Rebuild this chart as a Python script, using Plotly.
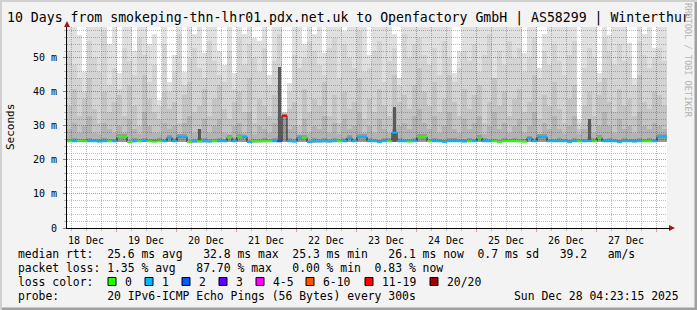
import plotly.graph_objects as go
import pandas as pd

# ---------------- data ----------------
title_text = "10 Days from smokeping-thn-lhr01.pdx.net.uk to Openfactory GmbH | AS58299 | Winterthur"
t_start = pd.Timestamp("2025-12-18 04:23:15")
t_end = pd.Timestamp("2025-12-28 04:23:15")
bin_hours = 2
n_bins = 120

smoke_base = 25.3
# lightest smoke (max ping) per 2-hour bin, ms
smoke_max = [60, 60, 56.8, 46, 60, 60, 60, 60, 54, 60,
             45.6, 60, 60, 52, 60, 60, 54, 57, 37.6, 60,
             43, 51, 60, 46, 60, 57, 60, 51.5, 60, 60,
             52, 48, 60, 45.6, 60, 57, 60, 56, 55, 60,
             45, 60, 60, 34, 42.6, 60, 60, 54, 60, 57,
             60, 51.5, 60, 60, 60, 58, 60, 60, 60, 60,
             51, 60, 60, 60, 60, 57, 44, 60, 60, 60,
             60, 60, 60, 60, 60, 60, 60, 45.6, 52, 60,
             60, 60, 60, 60, 60, 60, 60, 60, 60, 60,
             60, 51.5, 60, 60, 47, 57, 60, 60, 60, 60,
             60, 60, 32, 60, 60, 60, 45.6, 60, 56.8, 60,
             60, 60, 54.4, 44, 60, 57, 60, 53, 60, 60]
smoke_hi = [52, 48, 44, 40, 55, 50, 46, 58, 42, 47,
            41, 53, 49, 45, 56, 51, 43, 48, 36, 54,
            40, 46, 57, 42, 50, 53, 47, 44, 55, 49,
            45, 43, 52, 41, 56, 48, 54, 50, 46, 53,
            42, 49, 57, 34, 40, 51, 47, 50, 55, 52,
            48, 45, 53, 56, 44, 54, 50, 47, 58, 46,
            47, 52, 55, 43, 49, 53, 42, 57, 50, 54,
            56, 51, 48, 53, 45, 55, 50, 43, 47, 52,
            49, 54, 46, 51, 57, 44, 52, 48, 55, 50,
            53, 46, 50, 56, 44, 52, 48, 54, 49, 45,
            51, 55, 31, 47, 53, 50, 43, 56, 52, 48,
            54, 49, 50, 42, 55, 51, 47, 50, 53, 49]
smoke_mid = [36, 41, 33, 38, 44, 35, 31, 40, 34, 37,
             39, 33, 42, 36, 30, 45, 38, 34, 32, 40,
             35, 37, 31, 39, 43, 34, 36, 41, 33, 38,
             42, 35, 32, 37, 40, 34, 44, 31, 38, 36,
             33, 39, 42, 33.8, 35, 37, 30, 41, 34, 38,
             36, 43, 33, 39, 31, 40, 35, 37, 44, 32,
             38, 34, 41, 36, 33, 45, 37, 39, 35, 42,
             47, 40, 36, 43, 34, 38, 45, 37, 33, 41,
             35, 39, 42, 31, 37, 44, 36, 40, 33, 38,
             41, 34, 37, 45, 32, 39, 36, 43, 35, 31,
             38, 42, 29, 36, 40, 33, 39, 44, 37, 34,
             41, 36, 38, 33, 45, 37, 35, 40, 39, 36]
smoke_lo = [29, 31, 28, 30, 33, 28, 27.5, 31, 29, 28,
            30, 28, 32, 29, 27.5, 34, 30, 28, 28, 31,
            29, 30, 27.5, 31, 33, 28, 29, 32, 28, 30,
            32, 28, 27.5, 30, 31, 28, 34, 27.5, 30, 29,
            28, 31, 33, 33.6, 29, 30, 27.5, 32, 28, 30,
            29, 33, 28, 31, 27.5, 32, 29, 30, 34, 28,
            30, 28, 32, 29, 28, 35, 30, 31, 29, 33,
            35, 31, 29, 33, 28, 30, 34, 29, 28, 32,
            29, 31, 33, 27.5, 30, 34, 29, 31, 28, 30,
            32, 28, 30, 34, 27.5, 31, 29, 33, 29, 27.5,
            30, 33, 27.5, 29, 31, 28, 30, 34, 30, 28,
            32, 29, 30, 28, 34, 30, 29, 31, 30, 29]
smoke_near = [26.2, 26.4, 26.1, 26.3, 26.5, 26.2, 26.1, 26.6, 26.3, 26.2,
              27.6, 27.5, 26.0, 26.4, 26.2, 26.5, 26.3, 26.1, 26.4, 26.2,
              27.3, 26.5, 27.6, 27.5, 26.0, 26.3, 26.6, 26.4, 26.2, 26.3,
              26.5, 26.2, 27.2, 26.4, 27.6, 27.4, 26.0, 26.3, 26.2, 26.4,
              26.3, 26.5, 27.0, 33.4, 26.6, 26.3, 27.3, 27.2, 26.0, 26.4,
              26.2, 26.6, 26.3, 26.4, 26.2, 26.5, 27.2, 26.3, 27.6, 27.5,
              26.4, 26.3, 26.0, 26.5, 26.4, 29.0, 26.6, 26.3, 26.2, 26.4,
              27.6, 27.5, 26.3, 26.5, 26.2, 26.0, 26.4, 26.6, 26.3, 26.2,
              26.4, 26.3, 27.2, 26.5, 26.2, 26.3, 26.0, 26.4, 26.2, 26.5,
              26.3, 26.2, 27.1, 26.4, 27.6, 27.5, 26.3, 26.2, 26.4, 26.3,
              26.0, 26.5, 26.3, 26.2, 26.8, 26.4, 27.3, 26.2, 26.5, 26.3,
              26.0, 26.4, 26.3, 26.2, 26.5, 26.3, 26.4, 26.2, 27.7, 27.6]
# dark concentrated smoke spikes (only a few bins)
spike_rtt = [None] * 120
spike_rtt[26] = 29.0
spike_rtt[42] = 47.3
spike_rtt[65] = 35.6
spike_rtt[104] = 32.0

median_rtt = [25.5, 25.5, 25.6, 25.5, 25.5, 25.5, 25.4, 25.5, 25.5, 25.5,
              26.8, 26.8, 25.3, 25.5, 25.5, 25.6, 25.5, 25.4, 25.5, 25.5,
              26.6, 25.5, 26.8, 26.8, 25.3, 25.5, 25.5, 25.5, 25.4, 25.5,
              25.5, 25.5, 26.6, 25.5, 26.8, 26.8, 25.3, 25.5, 25.5, 25.5,
              25.5, 25.5, 25.5, 33.0, 25.5, 25.4, 26.6, 26.6, 25.3, 25.5,
              25.5, 25.5, 25.4, 25.5, 25.5, 25.5, 26.5, 25.5, 26.8, 26.8,
              25.5, 25.5, 25.3, 25.5, 25.5, 28.0, 25.5, 25.5, 25.4, 25.5,
              26.8, 26.8, 25.5, 25.5, 25.5, 25.3, 25.5, 25.5, 25.5, 25.4,
              25.5, 25.5, 26.5, 25.5, 25.5, 25.5, 25.3, 25.5, 25.5, 25.5,
              25.5, 25.4, 26.4, 25.5, 26.8, 26.8, 25.5, 25.5, 25.5, 25.5,
              25.3, 25.5, 25.5, 25.5, 25.6, 25.5, 26.6, 25.5, 25.5, 25.5,
              25.3, 25.5, 25.5, 25.4, 25.5, 25.5, 25.5, 25.5, 26.9, 26.9]
loss = [0, 1, 0, 0, 1, 1, 1, 1, 0, 1,
        0, 0, 0, 1, 0, 1, 0, 0, 0, 1,
        1, 1, 1, 1, 0, 1, 0, 1, 1, 0,
        1, 1, 0, 1, 0, 1, 1, 0, 0, 0,
        0, 1, 2, 11, 1, 1, 1, 0, 1, 1,
        1, 1, 1, 1, 0, 1, 1, 1, 1, 1,
        1, 1, 1, 1, 0, 1, 1, 1, 0, 1,
        0, 0, 0, 1, 1, 1, 1, 1, 1, 1,
        0, 1, 0, 1, 1, 0, 0, 0, 0, 0,
        0, 0, 1, 1, 1, 1, 1, 1, 1, 1,
        1, 1, 0, 1, 1, 0, 0, 1, 1, 1,
        1, 1, 1, 1, 1, 0, 0, 1, 1, 1]

loss_labels = ["0", "1", "2", "3", "4-5", "6-10", "11-19", "20/20"]
loss_colors = ["#26ff00", "#00b8ff", "#0059ff", "#5e00ff", "#ff00fe", "#ff5500", "#ff0000", "#a10000"]
loss_upper = [0, 1, 2, 3, 5, 10, 19, 20]

y_tickvals = [0, 10, 20, 30, 40, 50]
y_ticktext = ["0", "10 m", "20 m", "30 m", "40 m", "50 m"]

stat_rtt = "median rtt:  25.6 ms avg   32.8 ms max  25.3 ms min   26.1 ms now  0.7 ms sd   39.2   am/s"
stat_loss = "packet loss: 1.35 % avg   87.70 % max   0.00 % min  0.83 % now"
probe_text = "probe:       20 IPv6-ICMP Echo Pings (56 Bytes) every 300s"
date_text = "Sun Dec 28 04:23:15 2025"

# ---------------- helpers ----------------
MONO = "DejaVu Sans Mono"
W, H = 697, 310
PL, PR, PT, PB = 67, 667, 27, 228


def ax(px):
    return (px - PL) / (PR - PL)


def ay(py):
    return (PB - py) / (PB - PT)


def nb(s):
    return s.replace(" ", "\u00a0")


step = pd.Timedelta(hours=bin_hours)
edges = [t_start + i * step for i in range(n_bins + 1)]
centers = [t_start + (i + 0.5) * step for i in range(n_bins)]
bar_w = bin_hours * 3600 * 1000

fig = go.Figure()

# smoke layers (translucent so grid shows through, like rrdtool)
layers = [(smoke_max, 0.122), (smoke_hi, 0.0535), (smoke_mid, 0.066),
          (smoke_lo, 0.085), (smoke_near, 0.15)]
for vals, a in layers:
    fig.add_trace(go.Bar(
        x=centers, y=[v - smoke_base for v in vals], base=smoke_base,
        width=bar_w, marker=dict(color=f"rgba(0,0,0,{a})", line=dict(width=0)),
        hoverinfo="skip"))

fig.add_trace(go.Bar(
    x=centers, y=[(v - smoke_base) if v is not None else None for v in spike_rtt],
    base=smoke_base, width=bar_w * 0.55,
    marker=dict(color="#5a5a5a", line=dict(width=0)), hoverinfo="skip"))

# median step line (dark connectors)
sx, sy = [], []
for i in range(n_bins):
    sx += [edges[i], edges[i + 1]]
    sy += [median_rtt[i], median_rtt[i]]
fig.add_trace(go.Scatter(x=sx, y=sy, mode="lines", line=dict(color="#202020", width=1),
                         hoverinfo="skip"))


def bucket(l):
    for k, u in enumerate(loss_upper):
        if l <= u:
            return k
    return len(loss_upper) - 1


for k, col in enumerate(loss_colors):
    xs, ys = [], []
    for i in range(n_bins):
        if bucket(loss[i]) == k:
            xs += [edges[i], edges[i + 1], None]
            ys += [median_rtt[i], median_rtt[i], None]
    if xs:
        fig.add_trace(go.Scatter(x=xs, y=ys, mode="lines", line=dict(color=col, width=2),
                                 hoverinfo="skip"))

MAJ = "rgba(227,130,130,0.8)"
MIN = "rgba(140,140,140,0.55)"

fig.update_layout(
    width=W, height=H,
    margin=dict(l=PL, r=W - PR, t=PT, b=H - PB),
    paper_bgcolor="#f3f3f3", plot_bgcolor="#ffffff",
    showlegend=False, barmode="overlay", bargap=0, hovermode=False,
    font=dict(family=MONO, size=10, color="#000"),
    xaxis=dict(
        type="date", range=[t_start, t_end],
        tick0="2025-12-18", dtick=86400000, ticklabelmode="period", tickformat="%d %b",
        showgrid=True, gridcolor=MAJ, griddash="1px,1px", gridwidth=1,
        ticks="outside", ticklen=3, tickcolor=MAJ,
        minor=dict(tick0="2025-12-18", dtick=21600000, showgrid=True, gridcolor=MIN,
                   griddash="1px,1px", ticks="outside", ticklen=2, tickcolor=MIN),
        showline=True, linecolor="#000", linewidth=1, zeroline=False,
        tickfont=dict(family=MONO, size=10, color="#000"),
        fixedrange=True,
    ),
    yaxis=dict(
        range=[0, 59.1], tickmode="array", tickvals=y_tickvals, ticktext=y_ticktext,
        showgrid=True, gridcolor=MAJ, griddash="1px,1px", gridwidth=1,
        ticks="outside", ticklen=3, tickcolor="#888",
        minor=dict(tickmode="linear", tick0=0, dtick=2, showgrid=True, gridcolor=MIN,
                   griddash="1px,1px", ticks="outside", ticklen=2, tickcolor=MIN),
        showline=True, linecolor="#000", linewidth=1, zeroline=False,
        tickfont=dict(family=MONO, size=10, color="#000"),
        ticklabelstandoff=4,
        fixedrange=True,
    ),
)

shapes = []
# arrows
shapes.append(dict(type="path", xref="paper", yref="paper",
                   path=f"M {ax(669)} {ay(225)} L {ax(669)} {ay(231)} L {ax(675)} {ay(228)} Z",
                   fillcolor="#a01818", line=dict(width=0), layer="above"))
shapes.append(dict(type="line", xref="paper", yref="paper", x0=1, x1=ax(670), y0=ay(228.5), y1=ay(228.5),
                   line=dict(color="#000", width=1), layer="above"))
shapes.append(dict(type="path", xref="paper", yref="paper",
                   path=f"M {ax(64)} {ay(27)} L {ax(70)} {ay(27)} L {ax(67)} {ay(21)} Z",
                   fillcolor="#a01818", line=dict(width=0), layer="above"))
# frame
shapes.append(dict(type="rect", xref="paper", yref="paper", x0=ax(0), x1=ax(697), y0=ay(310), y1=ay(307.5),
                   fillcolor="#a0a0a0", line=dict(width=0), layer="above"))
shapes.append(dict(type="rect", xref="paper", yref="paper", x0=ax(694.5), x1=ax(697), y0=ay(310), y1=ay(0),
                   fillcolor="#a0a0a0", line=dict(width=0), layer="above"))
shapes.append(dict(type="rect", xref="paper", yref="paper", x0=ax(0), x1=ax(697), y0=ay(2), y1=ay(0),
                   fillcolor="#d0d0d0", line=dict(width=0), layer="above"))
shapes.append(dict(type="rect", xref="paper", yref="paper", x0=ax(0), x1=ax(2), y0=ay(310), y1=ay(0),
                   fillcolor="#d0d0d0", line=dict(width=0), layer="above"))

annotations = []


def txt(s, px, py, size=11.4, xanchor="left", color="#000", angle=0):
    annotations.append(dict(text=nb(s), x=ax(px), y=ay(py), xref="paper", yref="paper",
                            xanchor=xanchor, yanchor="middle", showarrow=False,
                            textangle=angle, font=dict(family=MONO, size=size, color=color)))


txt(title_text, 5, 18, size=13.2)
txt("Seconds", 11, 127, size=11, xanchor="center", angle=-90)
txt("RRDTOOL / TOBI OETIKER", 688, 60, size=8.6, xanchor="center", color="#b4b4b4", angle=90)
txt(stat_rtt, 16, 254)
txt(stat_loss, 16, 268)
txt("loss color:", 16, 282)
txt(probe_text, 16, 296)
txt(date_text, 681, 296, xanchor="right")

swatch_x = [108, 145, 182, 219, 256, 306, 365, 430]
for sxp, lab, col in zip(swatch_x, loss_labels, loss_colors):
    shapes.append(dict(type="rect", xref="paper", yref="paper",
                       x0=ax(sxp), x1=ax(sxp + 8), y0=ay(285.5), y1=ay(277.5),
                       fillcolor=col, line=dict(color="#000", width=1), layer="above"))
    txt(lab, sxp + 15, 282)

fig.update_layout(shapes=shapes, annotations=annotations)
fig.write_html("out.html")
